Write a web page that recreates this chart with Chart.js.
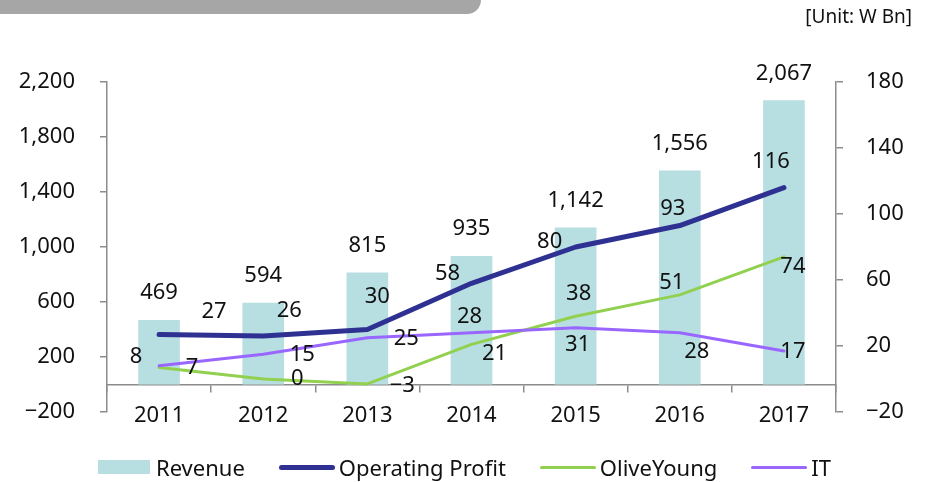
<!DOCTYPE html>
<html>
<head>
<meta charset="utf-8">
<script src="https://cdn.jsdelivr.net/npm/chart.js@4.4.1/dist/chart.umd.min.js"></script>
<style>
  html, body { margin: 0; padding: 0; background: #fff; }
  #wrap { position: relative; width: 929px; height: 482px; overflow: hidden; font-family: 'Noto Sans', sans-serif; color: #111; }
  #wrap canvas { position: absolute; left: 0; top: 0; }
  .tab { position: absolute; left: -20px; top: -20px; width: 501px; height: 34px; background: #a6a6a6; border-radius: 0 0 14px 14px; }
  .unit { position: absolute; right: 17px; top: 3px; font-size: 19px; }
  .legend { position: absolute; left: 0; top: 454px; width: 929px; height: 26px; display: flex; justify-content: center; align-items: center; font-size: 22px; }
  .legend .item { display: flex; align-items: center; margin: 0 17px; }
  .legend .box { width: 52px; height: 14px; margin-right: 6px; }
  .legend .line { width: 56px; border-radius: 3px; margin-right: 4px; }
</style>
</head>
<body>
<div id="wrap">
  <canvas id="chart" width="929" height="482"></canvas>
  <div class="tab"></div>
  <div class="unit">[Unit: W Bn]</div>
  <div class="legend" id="legend"></div>
</div>
<script>
(function () {
    "use strict";

    // values
    const years = ['2011', '2012', '2013', '2014', '2015', '2016', '2017'];
    const revenue = [469, 594, 815, 935, 1142, 1556, 2067];
    const operatingProfit = [27, 26, 30, 58, 80, 93, 116];
    const oliveYoung = [7, 0, -3, 21, 38, 51, 74];
    const itProfit = [8, 15, 25, 28, 31, 28, 17];
    const leftTicks = [-200, 200, 600, 1000, 1400, 1800, 2200];
    const rightTicks = [-20, 20, 60, 100, 140, 180];

    // where each value label sits relative to its point (px)
    const opShift = [[55, -23], [26, -25], [10, -33], [-24, -10], [-26, -5], [-7, -17], [-13, -26]];
    const oliveShift = [[33, 0], [34, 0], [35, 2], [23, 9], [3, -23], [-8, -12], [9, 10]];
    const itShift = [[-23, -9], [39, 0], [39, 1], [-2, -16], [2, 17], [17, 19], [9, 1]];

    const FONT = "'Noto Sans', sans-serif";
    const axisGrey = '#8c8c8c';

    function fmt(v) {
        const s = Math.abs(v).toLocaleString('en-US');
        return v < 0 ? '\u2212' + s : s;
    }

    const valueLabels = {
        id: 'valueLabels',
        afterDatasetsDraw(chart) {
            const ctx = chart.ctx;
            ctx.save();
            ctx.font = '22px ' + FONT;
            ctx.fillStyle = '#111';
            ctx.textAlign = 'center';
            ctx.textBaseline = 'middle';
            chart.data.datasets.forEach((ds, i) => {
                const meta = chart.getDatasetMeta(i);
                meta.data.forEach((el, j) => {
                    let dx = 0, dy = -27;
                    if (ds.shift) { dx = ds.shift[j][0]; dy = ds.shift[j][1]; }
                    ctx.fillText(fmt(ds.data[j]), el.x + dx, el.y + dy);
                });
            });
            ctx.restore();
        }
    };

    const chart = new Chart(document.getElementById('chart'), {
        type: 'bar',
        data: {
            labels: years,
            datasets: [
                {
                    type: 'line', label: 'Operating Profit', data: operatingProfit, yAxisID: 'y1',
                    borderColor: '#2e3192', borderWidth: 5, order: 1, shift: opShift
                },
                {
                    type: 'line', label: 'IT', data: itProfit, yAxisID: 'y1',
                    borderColor: '#9966ff', borderWidth: 3, order: 2, shift: itShift
                },
                {
                    type: 'line', label: 'OliveYoung', data: oliveYoung, yAxisID: 'y1',
                    borderColor: '#92d050', borderWidth: 3, order: 3, shift: oliveShift
                },
                {
                    type: 'bar', label: 'Revenue', data: revenue, yAxisID: 'y',
                    backgroundColor: '#b7dfe2', barPercentage: 0.4, categoryPercentage: 1, order: 4
                }
            ]
        },
        options: {
            responsive: false,
            animation: false,
            layout: { padding: { top: 82, bottom: 70, left: 0, right: 0 } },
            elements: {
                line: { tension: 0, borderCapStyle: 'round', borderJoinStyle: 'round', fill: false },
                point: { radius: 0, hoverRadius: 0 }
            },
            plugins: { legend: { display: false }, tooltip: { enabled: false } },
            scales: {
                x: {
                    position: { y: 0 },
                    offset: true,
                    grid: { offset: true, drawOnChartArea: false, drawTicks: true, tickLength: 7, color: axisGrey, lineWidth: 1.5 },
                    border: { display: true, color: axisGrey, width: 1.5 },
                    ticks: { padding: 11, color: '#111', font: { family: FONT, size: 22 }, maxRotation: 0 }
                },
                y: {
                    position: 'left',
                    min: -200, max: 2200,
                    afterFit(scale) { scale.width = 107; },
                    afterBuildTicks(scale) { scale.ticks = leftTicks.map(v => ({ value: v })); },
                    grid: { drawOnChartArea: false, drawTicks: true, tickLength: 7, color: axisGrey, lineWidth: 1.5 },
                    border: { display: true, color: axisGrey, width: 1.5 },
                    ticks: { padding: 25, color: '#111', font: { family: FONT, size: 22 }, callback: v => fmt(v) }
                },
                y1: {
                    position: 'right',
                    min: -20, max: 180,
                    afterFit(scale) { scale.width = 93; },
                    afterBuildTicks(scale) { scale.ticks = rightTicks.map(v => ({ value: v })); },
                    grid: { drawOnChartArea: false, drawTicks: true, tickLength: 7, color: axisGrey, lineWidth: 1.5 },
                    border: { display: true, color: axisGrey, width: 1.5 },
                    ticks: { padding: 23, color: '#111', font: { family: FONT, size: 22 }, callback: v => fmt(v) }
                }
            }
        },
        plugins: [valueLabels]
    });

    // legend in the order of the picture
    const legendOrder = ['Revenue', 'Operating Profit', 'OliveYoung', 'IT'];
    const legend = document.getElementById('legend');
    legendOrder.forEach(name => {
        const ds = chart.data.datasets.find(d => d.label === name);
        const item = document.createElement('div');
        item.className = 'item';
        const sw = document.createElement('span');
        if (ds.type === 'bar') {
            sw.className = 'box';
            sw.style.background = ds.backgroundColor;
        } else {
            sw.className = 'line';
            sw.style.height = ds.borderWidth + 'px';
            sw.style.background = ds.borderColor;
        }
        const txt = document.createElement('span');
        txt.textContent = name;
        item.appendChild(sw);
        item.appendChild(txt);
        legend.appendChild(item);
    });
}());
</script>
</body>
</html>
